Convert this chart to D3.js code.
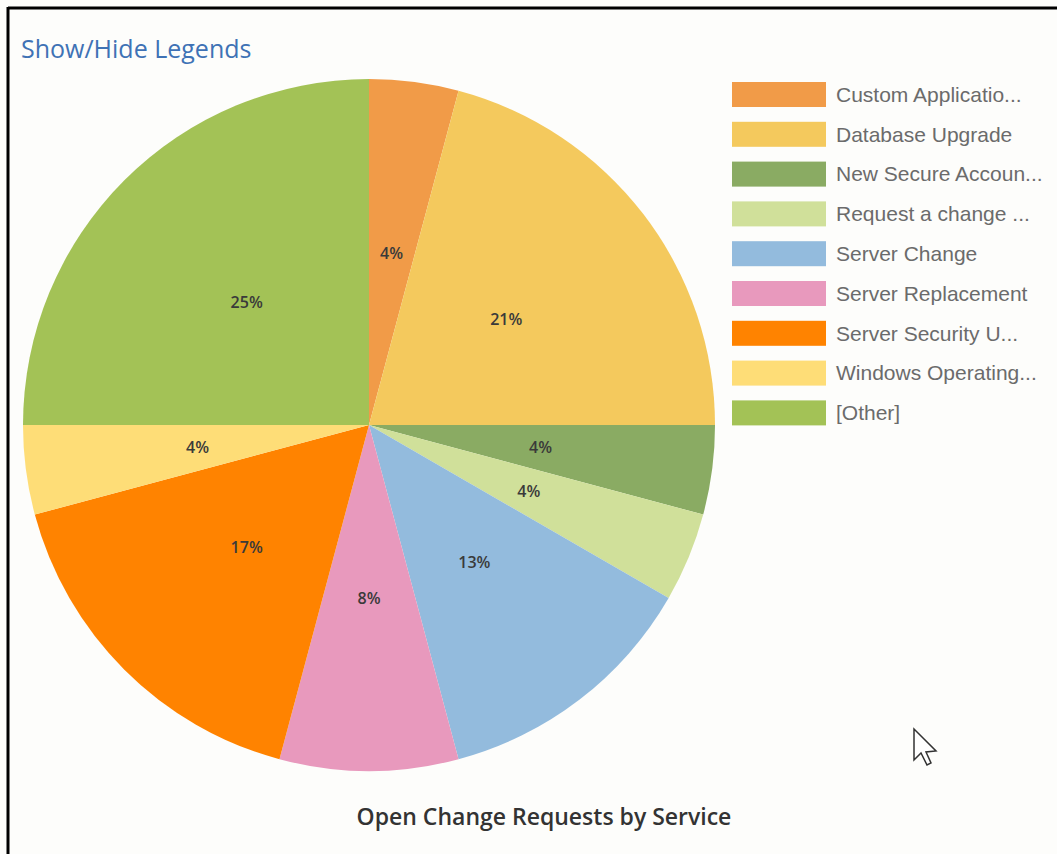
<!DOCTYPE html>
<html>
<head>
<meta charset="utf-8">
<script src="https://cdn.jsdelivr.net/npm/d3@7"></script>
<style>
  html, body { margin: 0; padding: 0; background: #fff; }
  #chart { width: 1057px; height: 854px; }
  .legend-link { font-family: "Open Sans", sans-serif; font-size: 25px; fill: #3f72b5; }
  .slice-label { font-family: "Open Sans", sans-serif; font-size: 16px; font-weight: 600; fill: #3a3a3a; }
  .legend text { font-family: "Liberation Sans", Arial, sans-serif; font-size: 21px; fill: #6b6b6b; }
  .title { font-family: "Open Sans", sans-serif; font-size: 23px; font-weight: 600; fill: #333; }
</style>
</head>
<body>
<div id="chart"></div>
<script>
// services (legend order = slice order, clockwise from 12 o'clock)
var services = ["Custom Applicatio...", "Database Upgrade", "New Secure Accoun...", "Request a change ...",
                "Server Change", "Server Replacement", "Server Security U...", "Windows Operating...", "[Other]"];
// open requests per service
var requests = [1, 5, 1, 1, 3, 2, 4, 1, 6];
var colours = ["#f19b48", "#f4c95d", "#8aab63", "#d0e09a", "#93bbdd", "#e899bd", "#ff8300", "#fedd77", "#a3c256"];

var width = 1057, height = 854;
var svg = d3.select("#chart").append("svg")
    .attr("width", width)
    .attr("height", height);

svg.append("rect").attr("width", width).attr("height", height).attr("fill", "#fdfdfb");

// frame (top + left edges only show)
svg.append("line").attr("x1", 8).attr("x2", width).attr("y1", 8).attr("y2", 8)
    .attr("stroke", "#000").attr("stroke-width", 3);
svg.append("line").attr("x1", 8).attr("x2", 8).attr("y1", 7).attr("y2", height)
    .attr("stroke", "#000").attr("stroke-width", 3);

svg.append("text").attr("class", "legend-link")
    .attr("x", 21).attr("y", 58)
    .text("Show/Hide Legends");

var data = services.map(function(s, i) { return {name: s, value: requests[i], colour: colours[i]}; });
var total = d3.sum(requests);

var cx = 369, cy = 425, radius = 346;
var pie = d3.pie().sort(null).value(function(d) { return d.value; });
var arc = d3.arc().innerRadius(0).outerRadius(radius);

var g = svg.append("g").attr("transform", "translate(" + cx + "," + cy + ")");

var slices = g.selectAll(".slice")
    .data(pie(data))
  .enter().append("g")
    .attr("class", "slice");

slices.append("path")
    .attr("d", arc)
    .attr("fill", function(d) { return d.data.colour; });

slices.append("text")
    .attr("class", "slice-label")
    .attr("transform", function(d) { return "translate(" + arc.centroid(d) + ")"; })
    .attr("text-anchor", "middle")
    .attr("dy", "0.35em")
    .text(function(d) { return d3.format(".0%")(d.data.value / total); });

// legend
var legend = svg.append("g").attr("class", "legend")
    .attr("transform", "translate(732,82)");

var rows = legend.selectAll(".row")
    .data(data)
  .enter().append("g")
    .attr("class", "row")
    .attr("transform", function(d, i) { return "translate(0," + (i * 39.8) + ")"; });

rows.append("rect")
    .attr("width", 94).attr("height", 25)
    .attr("fill", function(d) { return d.colour; });

rows.append("text")
    .attr("x", 104).attr("y", 12.5)
    .attr("dy", "0.35em")
    .text(function(d) { return d.name; });

svg.append("text").attr("class", "title")
    .attr("x", 544).attr("y", 825)
    .attr("text-anchor", "middle")
    .text("Open Change Requests by Service");

// mouse pointer in the screenshot
svg.append("path")
    .attr("d", "M914,729 L914,760 L921,753 L927,765 L931,763 L926,752 L936,751 Z")
    .attr("fill", "#fff").attr("stroke", "#333").attr("stroke-width", 1.5);
</script>
</body>
</html>
